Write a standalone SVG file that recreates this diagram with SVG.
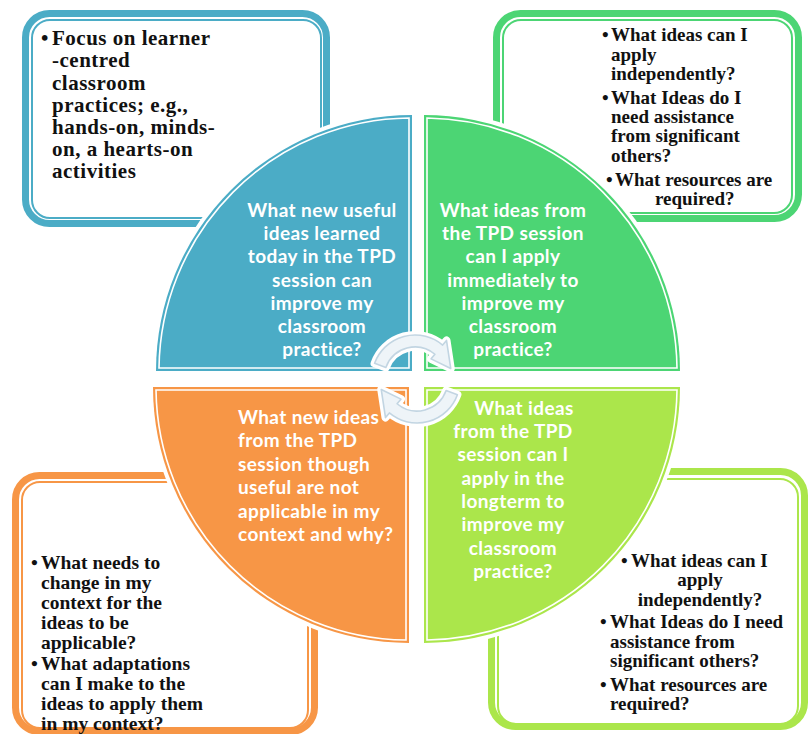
<svg xmlns="http://www.w3.org/2000/svg" width="811" height="734" viewBox="0 0 811 734">
  <style>
    .frame { fill: none; stroke-width: 7; }
    .frame-in { fill: none; stroke-width: 2; }
    .blue { stroke: #4bacc6; }
    .green { stroke: #4cd574; }
    .orange { stroke: #f79646; }
    .lime { stroke: #abe64b; }
    .quad { stroke: #ffffff; stroke-width: 8; paint-order: stroke fill; }
    .quad-in { fill: none; stroke: #ffffff; stroke-width: 1.6; }
    .qtext { font-family: Lato, "Open Sans", sans-serif; font-weight: bold; font-size: 19px; letter-spacing: 0.4px; fill: #ffffff; }
    .btext { font-family: "Liberation Serif", serif; font-weight: bold; fill: #111111; }
    .cyc-halo { fill: none; stroke: #ffffff; stroke-width: 8; stroke-linejoin: round; }
    .cyc { fill: #eef4f8; stroke: #c2d5e2; stroke-width: 1.6; stroke-linejoin: round; }
  </style>

  <defs>
    <!-- one curved arrow of the central cycle; the second is the same shape turned half a turn -->
    <path id="cycle-arrow" d="M 374.59 363.29 A 43 43 0 0 1 442.64 345.06 L 446.50 340.47 L 450.74 368.42 L 431.07 358.85 L 434.93 354.25 A 31 31 0 0 0 385.87 367.40 Z"/>
  </defs>

  <!-- outer framed boxes -->
  <g id="box-top-left">
    <rect class="frame blue" x="25.5" y="13.5" width="301" height="210" rx="24"/>
    <rect class="frame-in blue" x="32" y="20" width="289" height="198" rx="18"/>
    <g class="btext" font-size="21" letter-spacing="0.5">
      <text x="41" y="45">•</text>
      <text x="52" y="45">Focus on learner</text>
      <text x="52" y="67">-centred</text>
      <text x="52" y="90">classroom</text>
      <text x="52" y="112">practices; e.g.,</text>
      <text x="52" y="134">hands-on, minds-</text>
      <text x="52" y="156">on, a hearts-on</text>
      <text x="52" y="178">activities</text>
    </g>
  </g>

  <g id="box-top-right">
    <rect class="frame green" x="496.5" y="13.5" width="302" height="205" rx="24"/>
    <rect class="frame-in green" x="503" y="20" width="289" height="193" rx="18"/>
    <g class="btext" font-size="19">
      <text x="602" y="41">•</text>
      <text x="611" y="41">What ideas can I</text>
      <text x="611" y="61">apply</text>
      <text x="611" y="80">independently?</text>
      <text x="602" y="104">•</text>
      <text x="611" y="104">What Ideas do I</text>
      <text x="611" y="123">need assistance</text>
      <text x="611" y="142">from significant</text>
      <text x="611" y="162">others?</text>
      <text x="606" y="186">•</text>
      <text x="615" y="186">What resources are</text>
      <text x="655" y="205">required?</text>
    </g>
  </g>

  <g id="box-bottom-left">
    <rect class="frame orange" x="15.5" y="475.5" width="299" height="256" rx="24"/>
    <rect class="frame-in orange" x="22" y="482" width="286" height="246" rx="18"/>
    <g class="btext" font-size="19.5">
      <text x="31" y="569">•</text>
      <text x="41" y="569">What needs to</text>
      <text x="41" y="589">change in my</text>
      <text x="41" y="609">context for the</text>
      <text x="41" y="629">ideas to be</text>
      <text x="41" y="649">applicable?</text>
      <text x="31" y="670">•</text>
      <text x="41" y="670">What adaptations</text>
      <text x="41" y="690">can I make to the</text>
      <text x="41" y="710">ideas to apply them</text>
      <text x="41" y="730">in my context?</text>
    </g>
  </g>

  <g id="box-bottom-right">
    <rect class="frame lime" x="491.5" y="471.5" width="313" height="255" rx="24"/>
    <rect class="frame-in lime" x="498" y="479" width="300" height="245" rx="18"/>
    <g class="btext" font-size="19">
      <text x="621" y="567">•</text>
      <text x="631" y="567">What ideas can I</text>
      <text x="700" y="586" text-anchor="middle">apply</text>
      <text x="700" y="606" text-anchor="middle">independently?</text>
      <text x="600" y="628">•</text>
      <text x="610" y="628">What Ideas do I need</text>
      <text x="610" y="648">assistance from</text>
      <text x="610" y="667">significant others?</text>
      <text x="600" y="691">•</text>
      <text x="610" y="691">What resources are</text>
      <text x="610" y="710">required?</text>
    </g>
  </g>

  <!-- four quarter-circle segments -->
  <g id="quad-top-left">
    <path class="quad" fill="#4bacc6" d="M 412 371 L 156 371 A 256 256 0 0 1 412 115 Z"/>
    <path class="quad-in" d="M 409 368 L 159 368 A 253 253 0 0 1 409 118 Z"/>
    <g class="qtext" text-anchor="middle">
      <text x="322" y="217">What new useful</text>
      <text x="322" y="240">ideas learned</text>
      <text x="322" y="263">today in the TPD</text>
      <text x="322" y="287">session can</text>
      <text x="322" y="310">improve my</text>
      <text x="322" y="333">classroom</text>
      <text x="322" y="356">practice?</text>
    </g>
  </g>

  <g id="quad-top-right">
    <path class="quad" fill="#4cd574" d="M 424 371 L 424 115 A 256 256 0 0 1 680 371 Z"/>
    <path class="quad-in" d="M 427 368 L 427 118 A 253 253 0 0 1 677 368 Z"/>
    <g class="qtext" text-anchor="middle">
      <text x="513" y="217">What ideas from</text>
      <text x="513" y="240">the TPD session</text>
      <text x="513" y="263">can I apply</text>
      <text x="513" y="287">immediately to</text>
      <text x="513" y="310">improve my</text>
      <text x="513" y="333">classroom</text>
      <text x="513" y="356">practice?</text>
    </g>
  </g>

  <g id="quad-bottom-left">
    <path class="quad" fill="#f79646" d="M 409 387 L 153 387 A 256 256 0 0 0 409 643 Z"/>
    <path class="quad-in" d="M 406 390 L 156 390 A 253 253 0 0 0 406 640 Z"/>
    <g class="qtext">
      <text x="238" y="424">What new ideas</text>
      <text x="238" y="447">from the TPD</text>
      <text x="238" y="471">session though</text>
      <text x="238" y="494">useful are not</text>
      <text x="238" y="518">applicable in my</text>
      <text x="238" y="541">context and why?</text>
    </g>
  </g>

  <g id="quad-bottom-right">
    <path class="quad" fill="#abe64b" d="M 424 387 L 680 387 A 256 256 0 0 1 424 643 Z"/>
    <path class="quad-in" d="M 427 390 L 677 390 A 253 253 0 0 1 427 640 Z"/>
    <g class="qtext" text-anchor="middle">
      <text x="524" y="415">What ideas</text>
      <text x="513" y="438">from the TPD</text>
      <text x="513" y="461">session can I</text>
      <text x="513" y="485">apply in the</text>
      <text x="513" y="508">longterm to</text>
      <text x="513" y="531">improve my</text>
      <text x="513" y="555">classroom</text>
      <text x="513" y="578">practice?</text>
    </g>
  </g>

  <!-- central cycle arrows -->
  <g id="connectors">
    <use href="#cycle-arrow" class="cyc-halo"/>
    <use href="#cycle-arrow" class="cyc-halo" transform="rotate(180 416 379)"/>
    <use href="#cycle-arrow" class="cyc"/>
    <use href="#cycle-arrow" class="cyc" transform="rotate(180 416 379)"/>
  </g>
</svg>
